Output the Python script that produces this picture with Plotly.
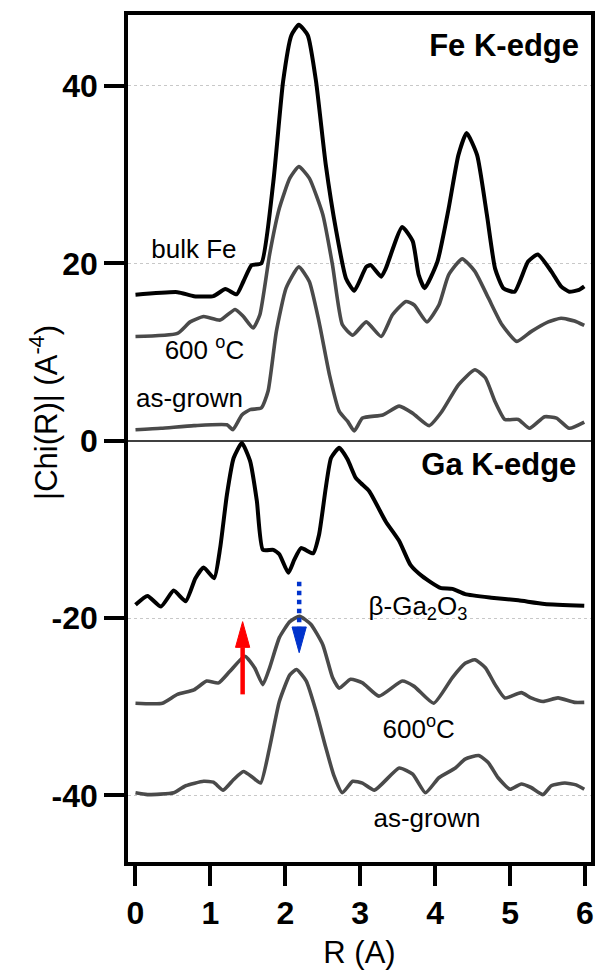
import plotly.graph_objects as go

# ---------------- data ----------------
fe_bulk_r = [0.0, 0.56, 0.78, 1.04, 1.2, 1.35, 1.44, 1.55, 1.68, 1.84, 1.97, 2.08, 2.18, 2.30, 2.41, 2.54, 2.68, 2.81, 2.92,
             3.08, 3.14, 3.28, 3.34, 3.56, 3.70, 3.78, 3.86, 4.03, 4.18, 4.31, 4.42, 4.56, 4.69, 4.80, 4.91, 5.06, 5.24,
             5.37, 5.55, 5.68, 5.79, 5.92, 5.99]
fe_bulk_chi = [16.45, 16.75, 16.3, 16.3, 17.1, 16.5, 17.95, 19.8, 20.0, 29.2, 40.5, 45.7, 46.9, 45.7, 40.5, 31.1, 23.6, 18.3,
               16.9, 19.6, 19.8, 18.5, 19.4, 24.1, 22.5, 18.7, 17.2, 20.2, 26.2, 32.2, 34.7, 32.2, 25.5, 19.4, 17.2, 16.8,
               20.2, 21.0, 19.1, 17.4, 16.8, 17.0, 17.4]

fe_600_r = [0.0, 0.56, 0.73, 0.91, 1.13, 1.33, 1.44, 1.57, 1.66, 1.79, 1.92, 2.06, 2.18, 2.32, 2.50, 2.63, 2.76, 2.90, 3.08,
            3.28, 3.43, 3.61, 3.72, 3.89, 4.05, 4.18, 4.36, 4.53, 4.71, 4.89, 5.09, 5.28, 5.51, 5.68, 5.86, 5.99]
fe_600_chi = [11.75, 12.1, 13.4, 14.0, 13.6, 14.8, 14.0, 12.7, 14.2, 21.0, 26.2, 29.6, 30.9, 29.6, 25.5, 19.8, 13.1, 11.9,
              13.4, 11.75, 14.2, 15.7, 15.3, 13.4, 15.3, 18.7, 20.5, 19.1, 16.1, 13.1, 11.2, 12.3, 13.4, 13.8, 13.5, 13.0]

fe_ag_r = [0.0, 0.34, 0.78, 1.22, 1.30, 1.42, 1.53, 1.68, 1.77, 1.88, 2.01, 2.18, 2.32, 2.45, 2.59, 2.72, 2.83, 2.92, 3.03,
           3.30, 3.52, 3.70, 3.92, 4.09, 4.31, 4.53, 4.67, 4.80, 4.93, 5.11, 5.26, 5.46, 5.62, 5.79, 5.99]
fe_ag_chi = [1.24, 1.4, 1.7, 1.8, 1.24, 2.9, 3.5, 3.7, 5.6, 12.3, 17.2, 19.6, 17.95, 13.4, 7.4, 3.3, 2.2, 1.1, 2.55, 2.9,
             3.9, 3.1, 1.7, 3.3, 6.3, 8.0, 7.1, 4.4, 2.4, 2.4, 1.4, 2.7, 2.55, 1.4, 2.1]

ga_ref_r = [0.0, 0.16, 0.34, 0.51, 0.67, 0.80, 0.91, 1.05, 1.13, 1.22, 1.31, 1.42, 1.53, 1.62, 1.70, 1.84, 1.92, 2.04, 2.12,
            2.21, 2.37, 2.45, 2.54, 2.61, 2.72, 2.83, 2.94, 3.01, 3.12, 3.34, 3.52, 3.67, 3.83, 4.07, 4.23, 4.40, 4.75,
            5.11, 5.46, 5.99]
ga_ref_chi = [-18.5, -17.5, -18.7, -16.9, -18.1, -15.5, -14.3, -15.5, -12.1, -6.1, -1.95, -0.26, -2.3, -6.8, -12.3, -12.3,
              -12.8, -14.9, -13.4, -12.1, -12.7, -10.6, -5.3, -1.95, -0.8, -2.1, -4.2, -4.8, -5.7, -9.1, -11.3, -14.0,
              -15.3, -16.6, -16.7, -17.3, -17.7, -18.0, -18.4, -18.6]

ga_600_r = [0.0, 0.36, 0.56, 0.78, 0.95, 1.11, 1.26, 1.46, 1.59, 1.70, 1.79, 1.92, 2.06, 2.19, 2.34, 2.50, 2.63, 2.72, 2.87,
            3.03, 3.25, 3.56, 3.72, 3.98, 4.23, 4.40, 4.53, 4.67, 4.80, 4.93, 5.15, 5.28, 5.44, 5.64, 5.86, 5.99]
ga_600_chi = [-29.6, -29.6, -28.6, -28.1, -27.1, -27.3, -26.0, -24.3, -25.6, -27.5, -25.6, -22.2, -20.4, -19.8, -20.7,
              -23.0, -26.7, -27.9, -26.9, -27.3, -28.8, -27.1, -27.7, -29.6, -26.7, -25.1, -24.7, -25.6, -27.5, -29.0,
              -28.4, -29.0, -29.4, -29.0, -29.5, -29.5]

ga_ag_r = [0.0, 0.16, 0.51, 0.67, 0.91, 1.04, 1.17, 1.31, 1.44, 1.57, 1.67, 1.79, 1.92, 2.06, 2.15, 2.28, 2.41, 2.54, 2.65,
           2.76, 2.90, 3.03, 3.19, 3.52, 3.70, 3.87, 4.05, 4.27, 4.40, 4.58, 4.71, 4.84, 5.00, 5.15, 5.28, 5.44, 5.55,
           5.73, 5.88, 5.99]
ga_ag_chi = [-39.7, -39.9, -39.7, -38.9, -38.4, -38.5, -39.4, -38.2, -37.3, -38.0, -38.6, -34.6, -29.4, -26.4, -25.8,
             -27.1, -30.5, -34.6, -37.8, -39.7, -38.4, -38.6, -39.4, -36.9, -37.6, -39.7, -38.0, -36.9, -35.9, -35.5,
             -36.3, -38.0, -39.3, -38.7, -39.1, -39.9, -38.9, -38.6, -38.8, -39.3]

x_ticks = [0, 1, 2, 3, 4, 5, 6]
y_ticks = [-40, -20, 0, 20, 40]

# curve labels
curve_label_text = ["bulk Fe", "600 <sup>o</sup>C", "as-grown", "β-Ga<sub>2</sub>O<sub>3</sub>", "600<sup>o</sup>C",
                    "as-grown"]
curve_label_r = [0.78, 0.92, 0.72, 3.77, 3.78, 3.89]
curve_label_chi = [21.3, 10.0, 4.5, -18.9, -32.8, -42.8]
edge_label_text = ["Fe K-edge", "Ga K-edge"]
edge_label_r = [4.92, 4.85]
edge_label_chi = [44.3, -2.95]

# arrows (R position, tail, head-base, tip)
red_arrow = dict(r=1.43, tail=-28.6, base=-23.3, tip=-20.4)
blue_arrow = dict(r=2.185, tail=-15.9, base=-21.0, tip=-23.9)

FONT = "Liberation Sans, Arial, sans-serif"
BLACK = "#000000"
GRAY = "#4a4a4a"

fig = go.Figure()

def add_curve(r, chi, color, width):
    fig.add_trace(go.Scatter(x=r, y=chi, mode="lines",
                             line=dict(color=color, width=width, shape="spline", smoothing=0.5),
                             hoverinfo="skip", showlegend=False))

add_curve(fe_bulk_r, fe_bulk_chi, BLACK, 4)
add_curve(fe_600_r, fe_600_chi, GRAY, 3.6)
add_curve(fe_ag_r, fe_ag_chi, GRAY, 3.6)
add_curve(ga_ref_r, ga_ref_chi, BLACK, 4)
add_curve(ga_600_r, ga_600_chi, GRAY, 3.6)
add_curve(ga_ag_r, ga_ag_chi, GRAY, 3.6)

# arrow shafts
fig.add_trace(go.Scatter(x=[red_arrow["r"], red_arrow["r"]], y=[red_arrow["tail"], red_arrow["base"]],
                         mode="lines", line=dict(color="#ff0000", width=4.5), showlegend=False, hoverinfo="skip"))
fig.add_trace(go.Scatter(x=[blue_arrow["r"], blue_arrow["r"]], y=[blue_arrow["tail"], blue_arrow["base"]],
                         mode="lines", line=dict(color="#0033cc", width=4.5, dash="dot"), showlegend=False,
                         hoverinfo="skip"))

HEAD_HALF_W = 0.095
for arr, col in ((red_arrow, "#ff0000"), (blue_arrow, "#0033cc")):
    r, b, t = arr["r"], arr["base"], arr["tip"]
    path = f"M {r - HEAD_HALF_W} {b} L {r + HEAD_HALF_W} {b} L {r} {t} Z"
    fig.add_shape(type="path", path=path, xref="x", yref="y", fillcolor=col, line=dict(color=col, width=1))

# text labels as text traces
fig.add_trace(go.Scatter(x=curve_label_r, y=curve_label_chi, text=curve_label_text, mode="text",
                         textposition="middle center", showlegend=False, hoverinfo="skip",
                         textfont=dict(family=FONT, size=26, color="black")))
fig.add_trace(go.Scatter(x=edge_label_r, y=edge_label_chi, text=edge_label_text, mode="text",
                         textposition="middle center", showlegend=False, hoverinfo="skip",
                         textfont=dict(family=FONT, size=31, color="black", weight="bold")))

# y-axis title (placed slightly above the axis centre, as in the reference)
fig.add_annotation(xref="paper", yref="paper", x=-0.18, y=0.531, text="|Chi(R)| (A<sup>-4</sup>)",
                   textangle=-90, showarrow=False, xanchor="center", yanchor="middle",
                   font=dict(family=FONT, size=31, color="#000000"))

fig.update_layout(
    width=605, height=980,
    margin=dict(l=128, r=10, t=15, b=118),
    paper_bgcolor="white", plot_bgcolor="white",
    showlegend=False,
    xaxis=dict(range=[-0.1, 6.08], tickvals=x_ticks, ticktext=[str(v) for v in x_ticks],
               ticks="outside", ticklen=20, tickwidth=4, tickcolor="black",
               showline=True, linewidth=3.5, linecolor="black", mirror=True,
               showgrid=False, zeroline=False,
               tickfont=dict(family=FONT, size=32, color="black", weight="bold"),
               title=dict(text="R (A)", font=dict(family=FONT, size=31, color="black"), standoff=12)),
    yaxis=dict(range=[-47.5, 48], tickvals=y_ticks, ticktext=[str(v) for v in y_ticks],
               ticks="outside", ticklen=20, tickwidth=4, tickcolor="black",
               showline=True, linewidth=3.5, linecolor="black", mirror=True,
               showgrid=True, gridcolor="#c8c8c8", gridwidth=1.3, griddash="dot",
               zeroline=True, zerolinecolor="#404040", zerolinewidth=2,
               tickfont=dict(family=FONT, size=32, color="black", weight="bold")),
)

fig.write_html("out.html")
